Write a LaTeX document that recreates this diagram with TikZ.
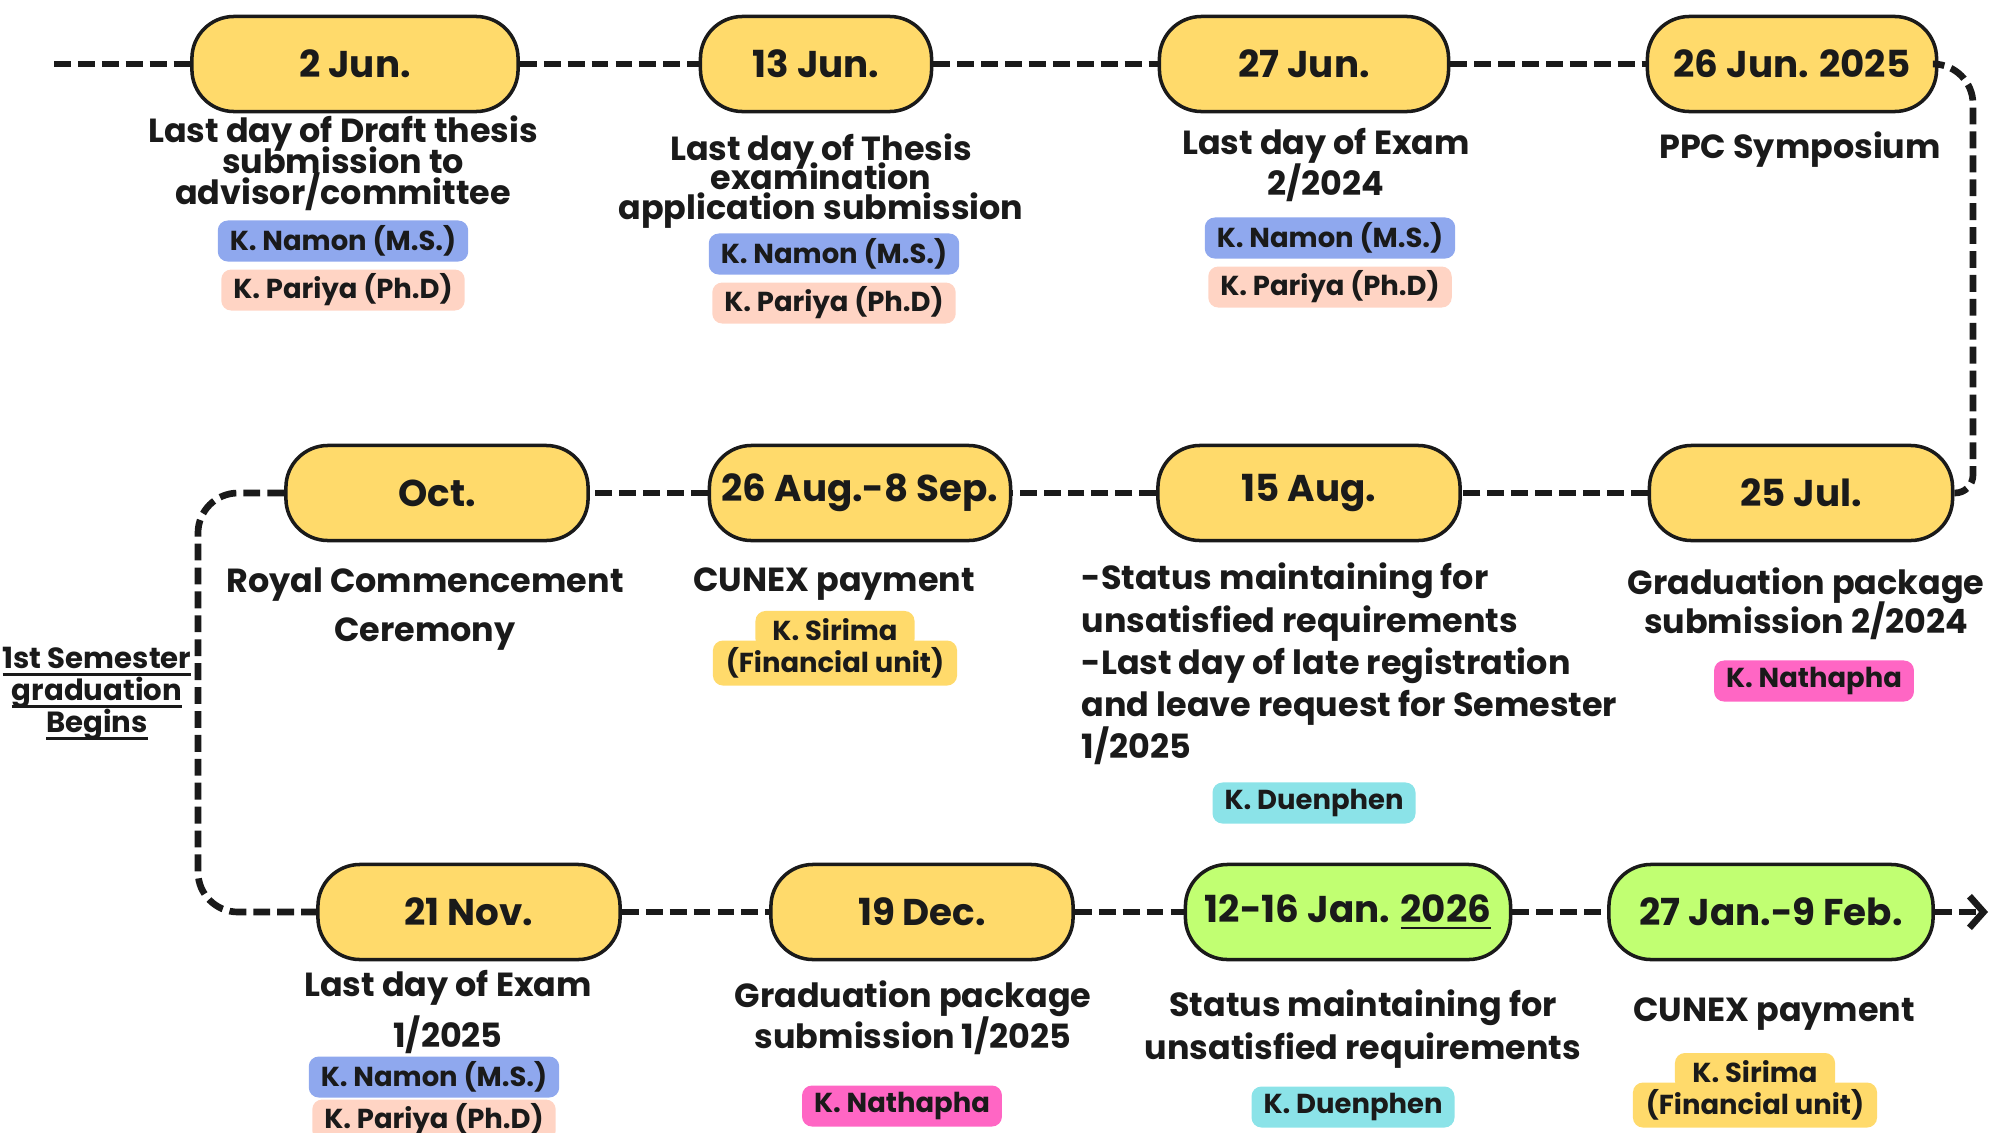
\documentclass[tikz,border=0pt]{standalone}
\usepackage{fontspec}
\setmainfont{Poppins}
\usetikzlibrary{arrows.meta, positioning}

\definecolor{ink}{HTML}{1A1A1A}
\definecolor{pillyellow}{HTML}{FFDA6B}
\definecolor{pillgreen}{HTML}{C1FF72}
\definecolor{namonblue}{HTML}{8FA8EE}
\definecolor{pariyapeach}{HTML}{FFD4C4}
\definecolor{duenphencyan}{HTML}{8BE3E8}
\definecolor{nathaphapink}{HTML}{FF66C4}

\newcommand{\descfont}[1]{\fontsize{9.5}{#1}\selectfont\bfseries\lineskiplimit=-20pt\relax}
\newcommand{\semfont}{\fontsize{8.3}{9.1pt}\selectfont\bfseries\lineskiplimit=-20pt\relax}
\newcommand{\ulword}[1]{\setbox0=\hbox{#1}\rlap{\rule[-2pt]{\wd0}{0.7pt}}\box0}

\begin{document}
\begin{tikzpicture}[x=0.01cm, y=-0.01cm, node distance=0.49cm, on grid,
    pill/.style={draw=ink, line width=1pt, fill=pillyellow, rounded corners=0.42cm,
      minimum height=0.95cm, text=ink, font=\fontsize{10.6}{12}\selectfont\bfseries},
    greenpill/.style={pill, fill=pillgreen},
    desc/.style={align=center, text=ink, inner sep=0pt, font=\descfont{12pt}},
    badge/.style={rounded corners=0.1cm, inner xsep=0.12cm, inner ysep=0pt,
      minimum height=0.41cm, text=ink, font=\fontsize{7.8}{9}\selectfont\bfseries},
    link/.style={draw=ink, line width=1.9pt, dash pattern=on 4.8pt off 2pt}]
    \useasboundingbox (0,0) rectangle (2005,1133);

    % row 1
    \node (e1) [pill, minimum width=3.26cm] at (355,64) {2 Jun.};
    \node (e2) [pill, minimum width=2.31cm] at (816,64) {13 Jun.};
    \node (e3) [pill, minimum width=2.89cm] at (1304,64) {27 Jun.};
    \node (e4) [pill, minimum width=2.89cm] at (1792,64) {26 Jun. 2025};

    \node (t1) [desc, font=\descfont{8.8pt}] at (343,163) {Last day of Draft thesis\\submission to\\advisor/committee};
    \node (n1) [badge, fill=namonblue] at (343,241) {K. Namon (M.S.)};
    \node (p1) [badge, fill=pariyapeach, below=of n1] {K. Pariya (Ph.D)};

    \node (t2) [desc, font=\descfont{8.5pt}] at (821,181) {Last day of Thesis\\examination\\application submission};
    \node (n2) [badge, fill=namonblue] at (834,254) {K. Namon (M.S.)};
    \node (p2) [badge, fill=pariyapeach, below=of n2] {K. Pariya (Ph.D)};

    \node (t3) [desc, font=\descfont{11.7pt}] at (1326,165) {Last day of Exam\\2/2024};
    \node (n3) [badge, fill=namonblue] at (1330,238) {K. Namon (M.S.)};
    \node (p3) [badge, fill=pariyapeach, below=of n3] {K. Pariya (Ph.D)};

    \node (t4) [desc] at (1800,150) {PPC Symposium};

    % row 2
    \node (e5) [pill, minimum width=3.02cm] at (437,493) {Oct.};
    \node (e6) [pill, minimum width=3.01cm] at (860,493) {26 Aug.-8 Sep.};
    \node (e7) [pill, minimum width=3.02cm] at (1309,493) {15 Aug.};
    \node (e8) [pill, minimum width=3.03cm] at (1801,493) {25 Jul.};

    \node (t5) [desc, font=\descfont{13.7pt}] at (425,609) {Royal Commencement\\Ceremony};

    \node (t6) [desc] at (834,584) {CUNEX payment};
    \node (s6a) [badge, fill=pillyellow, minimum width=1.59cm, minimum height=0.38cm] at (835,630) {K. Sirima};
    \node (s6b) [badge, fill=pillyellow, minimum width=2.44cm, minimum height=0.45cm, below=0.33cm of s6a] {(Financial unit)};

    \node (t7) [desc, align=left, anchor=west] at (1081,664) {-Status maintaining for\\unsatisfied requirements\\-Last day of late registration\\and leave request for Semester\\1/2025};
    \node (d7) [badge, fill=duenphencyan] at (1314,803) {K. Duenphen};

    \node (t8) [desc, font=\descfont{11.1pt}] at (1806,604) {Graduation package\\submission 2/2024};
    \node (h8) [badge, fill=nathaphapink] at (1814,681) {K. Nathapha};

    \node (sem) [desc, font=\semfont] at (97,694) {\ulword{1st Semester}\\\ulword{graduation}\\\ulword{Begins}};

    % row 3
    \node (e9) [pill, minimum width=3.02cm] at (469,912) {21 Nov.};
    \node (e10) [pill, minimum width=3.02cm] at (922,912) {19 Dec.};
    \node (e11) [greenpill, minimum width=3.25cm] at (1348,912) {12-16 Jan. \ulword{2026}};
    \node (e12) [greenpill, minimum width=3.24cm] at (1771,912) {27 Jan.-9 Feb.};

    \node (t9) [desc, font=\descfont{14.5pt}] at (448,1012) {Last day of Exam\\1/2025};
    \node (n9) [badge, fill=namonblue] at (434,1077) {K. Namon (M.S.)};
    \node (p9) [badge, fill=pariyapeach, below=0.43cm of n9] {K. Pariya (Ph.D)};

    \node (t10) [desc, font=\descfont{11.7pt}] at (913,1018) {Graduation package\\submission 1/2025};
    \node (h10) [badge, fill=nathaphapink] at (902,1106) {K. Nathapha};

    \node (t11) [desc] at (1363,1029) {Status maintaining for\\unsatisfied requirements};
    \node (d11) [badge, fill=duenphencyan] at (1353,1107) {K. Duenphen};

    \node (t12) [desc] at (1774,1014) {CUNEX payment};
    \node (s12a) [badge, fill=pillyellow, minimum width=1.60cm, minimum height=0.38cm] at (1755,1072) {K. Sirima};
    \node (s12b) [badge, fill=pillyellow, minimum width=2.44cm, minimum height=0.45cm, below=0.33cm of s12a] {(Financial unit)};

    % timeline
    \coordinate (start) at (54,64);
    \coordinate (bendR) at (1973,300);
    \coordinate (bendL) at (198,700);
    \coordinate (finish) at (1988,912);

    \draw[link] (start) -- (e1);
    \draw[link] (e1) -- (e2);
    \draw[link] (e2) -- (e3);
    \draw[link] (e3) -- (e4);
    \draw[link] (e4.east) [rounded corners=0.4cm] -| (bendR) [rounded corners=0.18cm] |- (e8.east);
    \draw[link] (e8) -- (e7);
    \draw[link] (e7) -- (e6);
    \draw[link] (e6) -- (e5);
    \draw[link, rounded corners=0.4cm] (e5.west) -| (bendL) |- (e9.west);
    \draw[link] (e9) -- (e10);
    \draw[link] (e10) -- (e11);
    \draw[link] (e11) -- (e12);
    \draw[link, -{Straight Barb[length=4pt, width=9pt]}] (e12) -- (finish);
\end{tikzpicture}
\end{document}
